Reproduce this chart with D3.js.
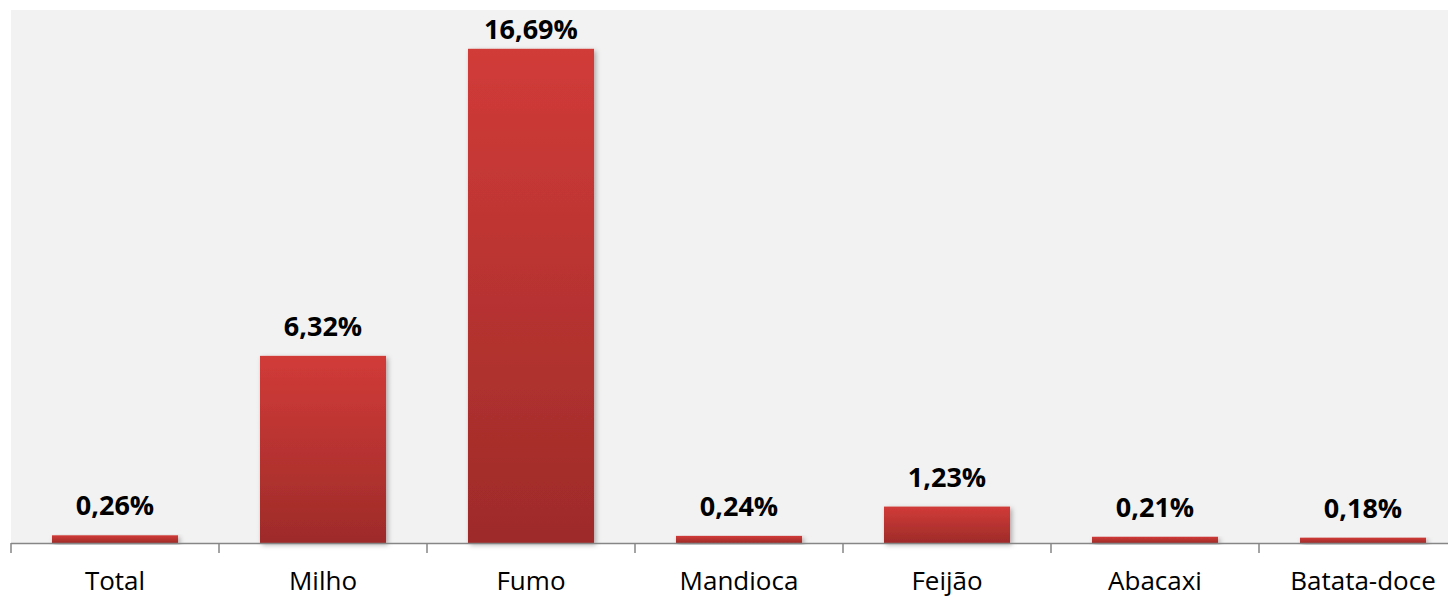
<!DOCTYPE html>
<html>
<head>
<meta charset="utf-8">
<script src="https://cdn.jsdelivr.net/npm/d3@7"></script>
<style>
  body { margin: 0; background: #fff; }
  svg { display: block; }
</style>
</head>
<body>
<div id="chart"></div>
<script>
// data
const categories = ["Total", "Milho", "Fumo", "Mandioca", "Feijão", "Abacaxi", "Batata-doce"];
const values = [0.26, 6.32, 16.69, 0.24, 1.23, 0.21, 0.18];
const labels = ["0,26%", "6,32%", "16,69%", "0,24%", "1,23%", "0,21%", "0,18%"];

const width = 1448, height = 598;
const margin = { top: 10, right: -19, bottom: 55, left: 11 };  // plot runs past the right edge

const x = d3.scaleBand()
    .domain(categories)
    .range([margin.left, width - margin.right])
    .paddingInner(0.394)
    .paddingOuter(0.197);

const y = d3.scaleLinear()
    .domain([0, 18])
    .range([height - margin.bottom, margin.top]);

const svg = d3.select("#chart").append("svg")
    .attr("width", width)
    .attr("height", height);

const defs = svg.append("defs");
const grad = defs.append("linearGradient")
    .attr("id", "barGrad")
    .attr("x1", 0).attr("y1", 0).attr("x2", 0).attr("y2", 1);
grad.append("stop").attr("offset", "0%").attr("stop-color", "#d13b38");
grad.append("stop").attr("offset", "100%").attr("stop-color", "#9e2b29");

const shadow = defs.append("filter")
    .attr("id", "shadow")
    .attr("x", "-10%").attr("y", "-10%").attr("width", "130%").attr("height", "130%");
shadow.append("feDropShadow")
    .attr("dx", 2).attr("dy", 2)
    .attr("stdDeviation", 2.5)
    .attr("flood-color", "#000")
    .attr("flood-opacity", 0.3);

// plot background
svg.append("rect")
    .attr("x", margin.left)
    .attr("y", margin.top)
    .attr("width", width - margin.left - margin.right)
    .attr("height", height - margin.top - margin.bottom)
    .attr("fill", "#f2f2f2");

const data = categories.map((c, i) => ({ cat: c, v: values[i], label: labels[i] }));

svg.append("g")
  .selectAll("rect")
  .data(data)
  .join("rect")
    .attr("x", d => x(d.cat))
    .attr("y", d => y(d.v))
    .attr("width", x.bandwidth())
    .attr("height", d => y(0) - y(d.v))
    .attr("fill", "url(#barGrad)")
    .attr("filter", "url(#shadow)");

svg.append("g")
  .selectAll("text")
  .data(data)
  .join("text")
    .attr("x", d => x(d.cat) + x.bandwidth() / 2)
    .attr("y", d => Math.max(y(d.v) - 20, 39))
    .attr("text-anchor", "middle")
    .attr("font-family", "'Open Sans', sans-serif")
    .attr("font-weight", "bold")
    .attr("font-size", "27px")
    .attr("fill", "#000")
    .text(d => d.label);

// x axis: ticks sit between categories
const step = x.step();
const bounds = d3.range(categories.length + 1).map(i => margin.left + i * step);

const axis = svg.append("g");
axis.append("line")
    .attr("x1", margin.left).attr("x2", width)
    .attr("y1", y(0) + 0.5).attr("y2", y(0) + 0.5)
    .attr("stroke", "#868686")
    .attr("stroke-width", 1.5);
axis.selectAll("line.tick")
  .data(bounds)
  .join("line")
    .attr("class", "tick")
    .attr("x1", d => d).attr("x2", d => d)
    .attr("y1", y(0)).attr("y2", y(0) + 10)
    .attr("stroke", "#868686")
    .attr("stroke-width", 1.5);

axis.selectAll("text")
  .data(categories)
  .join("text")
    .attr("x", d => x(d) + x.bandwidth() / 2)
    .attr("y", 590)
    .attr("text-anchor", "middle")
    .attr("font-family", "'Open Sans', sans-serif")
    .attr("font-size", "26px")
    .attr("fill", "#000")
    .text(d => d);
</script>
</body>
</html>
